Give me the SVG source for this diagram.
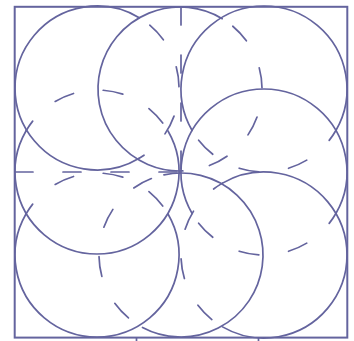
<svg xmlns="http://www.w3.org/2000/svg" width="354" height="341" viewBox="0 0 354 341">
<style>
.s{fill:none;stroke:#64649e;stroke-width:1.7;stroke-linecap:round}
.d{stroke-dasharray:20 30}
.o8{stroke-dashoffset:8}
.o33{stroke-dashoffset:33}
.o37{stroke-dashoffset:37}
.g{stroke-dasharray:18 30}
.f{fill:none;stroke:#64649e;stroke-width:2}
</style>
<rect id="frame" class="f" x="14.7" y="6.8" width="332.6" height="330.8"/>
<g id="guides">
<path class="s g" d="M15,172 H181"/>
<path class="s g" d="M181,7 V181"/>
<path class="s" d="M136.5,338 v3 M258.5,338 v3"/>
</g>
<g id="c1">
<path class="s" d="M139.23,158.29 A82,82 0 1 1 139.23,17.71"/>
<path class="s d o37" d="M139.23,17.71 A82,82 0 0 1 139.23,158.29"/>
</g>
<g id="c2">
<path class="s" d="M182.86,170.95 A82,82 0 1 1 222.23,18.71"/>
<path class="s d o37" d="M222.23,18.71 A82,82 0 0 1 182.86,170.95"/>
</g>
<g id="c3">
<path class="s" d="M192.12,130.5 A83,83 0 1 1 335.88,130.5"/>
<path class="s d o8" d="M335.88,130.5 A83,83 0 0 1 192.12,130.5"/>
</g>
<g id="c4">
<path class="s" d="M192.12,213.5 A83,83 0 1 1 335.88,213.5"/>
<path class="s d o8" d="M335.88,213.5 A83,83 0 0 1 192.12,213.5"/>
</g>
<g id="c5">
<path class="s" d="M168.01,131 A82,82 0 1 1 25.99,131"/>
<path class="s d o8" d="M25.99,131 A82,82 0 0 1 168.01,131"/>
</g>
<g id="c6">
<path class="s" d="M168.01,214 A82,82 0 1 1 25.99,214"/>
<path class="s d o8" d="M25.99,214 A82,82 0 0 1 168.01,214"/>
</g>
<g id="c7">
<path class="s" d="M163.95,174.8 A82,82 0 1 1 142.5,327.4"/>
<path class="s d o33" d="M142.5,327.4 A82,82 0 0 1 163.95,174.8"/>
</g>
<g id="c8">
<path class="s" d="M222.5,183.12 A83,83 0 1 1 222.5,326.88"/>
<path class="s d o37" d="M222.5,326.88 A83,83 0 0 1 222.5,183.12"/>
</g>
<g id="connectors"/>
</svg>
